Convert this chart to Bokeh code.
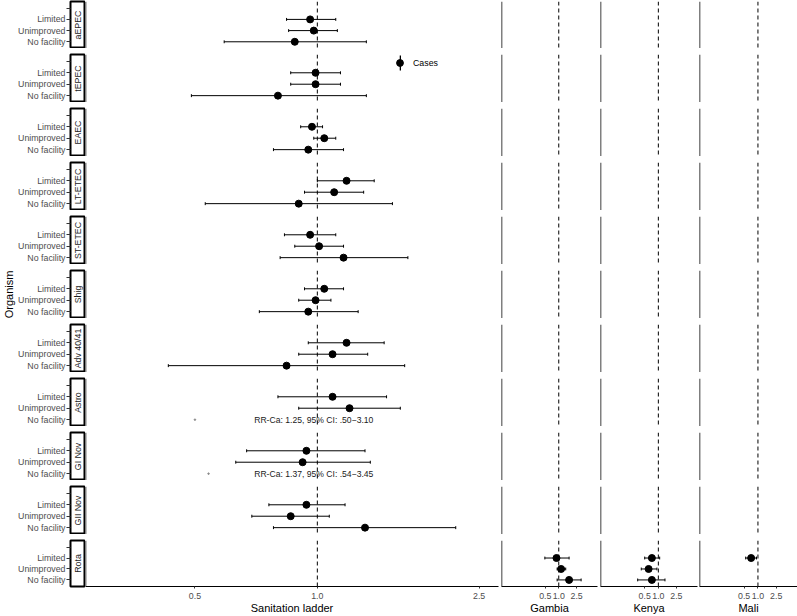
import math
from bokeh.plotting import figure
from bokeh.models import (ColumnDataSource, Range1d, FixedTicker, Span, Label,
                          Legend, LegendItem, PrintfTickFormatter)
from bokeh.layouts import gridplot
from bokeh.embed import file_html
from bokeh.resources import INLINE
from bokeh.core.properties import value

FONT = "Liberation Sans"
nan = float("nan")

organisms = ["aEPEC", "tEPEC", "EAEC", "LT-ETEC", "ST-ETEC", "Shig",
             "Adv 40/41", "Astro", "GI Nov", "GII Nov", "Rota"]
levels = ["Limited", "Unimproved", "No facility"]
level_pos = [3, 2, 1]
tick_labels = {1: "No facility", 2: "Unimproved", 3: "Limited", 4: ""}

# Sanitation ladder panel: [Limited, Unimproved, No facility]
ladder_est = {
    "aEPEC":     [0.96, 0.98, 0.88],
    "tEPEC":     [0.99, 0.99, 0.80],
    "EAEC":      [0.97, 1.04, 0.95],
    "LT-ETEC":   [1.18, 1.10, 0.90],
    "ST-ETEC":   [0.96, 1.01, 1.16],
    "Shig":      [1.04, 0.99, 0.95],
    "Adv 40/41": [1.18, 1.09, 0.84],
    "Astro":     [1.09, 1.20, nan],
    "GI Nov":    [0.94, 0.92, nan],
    "GII Nov":   [0.94, 0.86, 1.31],
    "Rota":      [nan, nan, nan],
}
ladder_lo = {
    "aEPEC":     [0.84, 0.85, 0.59],
    "tEPEC":     [0.86, 0.86, 0.49],
    "EAEC":      [0.91, 0.98, 0.78],
    "LT-ETEC":   [1.00, 0.93, 0.53],
    "ST-ETEC":   [0.83, 0.88, 0.81],
    "Shig":      [0.93, 0.90, 0.72],
    "Adv 40/41": [0.95, 0.90, 0.43],
    "Astro":     [0.80, 0.90, nan],
    "GI Nov":    [0.67, 0.63, nan],
    "GII Nov":   [0.76, 0.69, 0.78],
    "Rota":      [nan, nan, nan],
}
ladder_hi = {
    "aEPEC":     [1.11, 1.12, 1.32],
    "tEPEC":     [1.14, 1.14, 1.32],
    "EAEC":      [1.03, 1.11, 1.16],
    "LT-ETEC":   [1.38, 1.30, 1.53],
    "ST-ETEC":   [1.11, 1.16, 1.67],
    "Shig":      [1.16, 1.08, 1.26],
    "Adv 40/41": [1.46, 1.33, 1.64],
    "Astro":     [1.48, 1.60, nan],
    "GI Nov":    [1.31, 1.35, nan],
    "GII Nov":   [1.17, 1.07, 2.19],
    "Rota":      [nan, nan, nan],
}

# Rotavirus by country: [Limited, Unimproved, No facility]
countries = ["Gambia", "Kenya", "Mali"]
rota_est = {"Gambia": [0.89, 1.13, 1.70], "Kenya": [0.72, 0.61, 0.72], "Mali": [0.71, nan, nan]}
rota_lo = {"Gambia": [0.49, 0.92, 0.92], "Kenya": [0.50, 0.42, 0.35], "Mali": [0.54, nan, nan]}
rota_hi = {"Gambia": [1.70, 1.43, 3.15], "Kenya": [1.07, 0.93, 1.40], "Mali": [0.93, nan, nan]}

# Case-only estimates printed as text
annot_org = ["Astro", "GI Nov"]
annot_text = ["RR-Ca: 1.25, 95% CI: .50\u22123.10", "RR-Ca: 1.37, 95% CI: .54\u22123.45"]
annot_x = [0.98, 0.98]
annot_mark = [0.50, 0.54]

x_ticks = [0.5, 1.0, 2.5]
main_range = (0.269, 2.79)
small_range = (0.053, 7.3)

TXT = "#4D4D4D"

n = len(organisms)
rows = []
for i, org in enumerate(organisms):
    top = 1 if i == 0 else 6
    bottom = 28 if i == n - 1 else 0
    fh = 47 if i == 0 else 48
    h = fh + top + bottom

    # strip + y axis
    s = figure(width=85, height=h, x_range=Range1d(0, 1), y_range=Range1d(0.4, 4.6),
               output_backend="svg", toolbar_location=None,
               min_border_left=68, min_border_right=0, min_border_top=top,
               min_border_bottom=bottom)
    s.grid.visible = False
    s.xaxis.visible = False
    s.outline_line_color = "black"
    s.outline_line_width = 2
    ya = s.yaxis[0]
    ya.ticker = FixedTicker(ticks=[1, 2, 3, 4])
    ya.major_label_overrides = tick_labels
    ya.axis_line_color = None
    ya.minor_tick_line_color = None
    ya.major_tick_out = 4
    ya.major_tick_in = 0
    ya.major_tick_line_color = "#333333"
    ya.major_label_standoff = 1
    ya.major_label_text_font = FONT
    ya.major_label_text_font_size = "8.8px"
    ya.major_label_text_color = TXT
    if org == "Shig":
        ya.axis_label = "Organism"
        ya.axis_label_text_font = FONT
        ya.axis_label_text_font_size = "11px"
        ya.axis_label_text_font_style = "normal"
        ya.axis_label_text_color = "black"
        ya.axis_label_standoff = 0
    s.add_layout(Label(x=0.5, y=2.5, text=org, angle=math.pi / 2, text_align="center",
                       text_baseline="middle", text_font=FONT, text_font_size="8.8px",
                       text_color="#1A1A1A"))
    row = [s]

    specs = [("Sanitation ladder", main_range, 416, 3,
              ladder_est[org], ladder_lo[org], ladder_hi[org])]
    widths = {"Gambia": (99, 3), "Kenya": (99, 2), "Mali": (98, 0)}
    for c in countries:
        if org == "Rota":
            e, l, u = rota_est[c], rota_lo[c], rota_hi[c]
        else:
            e, l, u = [nan] * 3, [nan] * 3, [nan] * 3
        specs.append((c, small_range, widths[c][0], widths[c][1], e, l, u))

    for (name, xr, w, br, e, l, u) in specs:
        p = figure(width=w, height=h, x_axis_type="log", x_range=Range1d(*xr),
                   y_range=Range1d(0.4, 4.6), output_backend="svg", toolbar_location=None,
                   min_border_left=0, min_border_right=br, min_border_top=top,
                   min_border_bottom=bottom)
        p.grid.visible = False
        p.outline_line_color = None
        p.yaxis.visible = False
        p.add_layout(Span(location=xr[0], dimension="height", line_color="black",
                          line_width=1.5))
        p.add_layout(Span(location=1.0, dimension="height", line_color="black",
                          line_width=1, line_dash="4 3"))
        src = ColumnDataSource(dict(
            y=level_pos, y0=[v - 0.13 for v in level_pos], y1=[v + 0.13 for v in level_pos],
            est=e, lo=l, hi=u))
        p.segment(x0="lo", y0="y", x1="hi", y1="y", source=src, line_color="black",
                  line_width=1)
        p.segment(x0="lo", y0="y0", x1="lo", y1="y1", source=src, line_color="black",
                  line_width=1)
        p.segment(x0="hi", y0="y0", x1="hi", y1="y1", source=src, line_color="black",
                  line_width=1)
        p.scatter(x="est", y="y", source=src, size=7, color="black")

        if name == "Sanitation ladder" and org in annot_org:
            k = annot_org.index(org)
            p.scatter(x=[annot_mark[k]], y=[1], size=1.5, color="#888888")
            p.text(x=[annot_x[k]], y=[1], text=[annot_text[k]], text_align="center",
                   text_baseline="middle", text_font=value(FONT),
                   text_font_size="8.6px", text_color="#1A1A1A")

        if name == "Sanitation ladder" and org == "tEPEC":
            # legend key: vertical error bar with a point on top
            r_bar = p.vbar(x=[nan], top=[nan], width=0.1, fill_color="black",
                           line_color=None)
            r_pt = p.scatter(x=[nan], y=[nan], size=7, color="black")
            leg_bar = Legend(items=[LegendItem(label=" ", renderers=[r_bar])],
                             location=(313.5, 30), padding=0, margin=0, spacing=0,
                             glyph_width=2, glyph_height=19, label_standoff=0,
                             label_text_font_size="1px", border_line_color=None,
                             background_fill_alpha=0)
            leg = Legend(items=[LegendItem(label="Cases", renderers=[r_pt])],
                         location=(306, 31), padding=0, margin=0, spacing=0,
                         glyph_width=17, glyph_height=17, label_standoff=5,
                         label_text_font=FONT, label_text_font_size="8.8px",
                         label_text_color="black", border_line_color=None,
                         background_fill_alpha=0)
            p.add_layout(leg_bar)
            p.add_layout(leg)

        if i == n - 1:
            xa = p.xaxis[0]
            xa.ticker = FixedTicker(ticks=x_ticks)
            xa.formatter = PrintfTickFormatter(format="%.1f")
            xa.axis_line_color = "black"
            xa.axis_line_width = 1
            xa.major_tick_out = 2
            xa.major_tick_in = 0
            xa.minor_tick_line_color = None
            xa.major_tick_line_color = "#333333"
            xa.major_label_standoff = 4
            xa.major_label_text_font = FONT
            xa.major_label_text_font_size = "8.8px"
            xa.major_label_text_color = TXT
            xa.axis_label = name
            xa.axis_label_standoff = 0
            xa.axis_label_text_font = FONT
            xa.axis_label_text_font_size = "11px"
            xa.axis_label_text_font_style = "normal"
            xa.axis_label_text_color = "black"
        else:
            p.xaxis.visible = False
        row.append(p)
    rows.append(row)

grid = gridplot(rows, toolbar_location=None)
grid.margin = 0

open("out.html", "w").write(file_html(grid, INLINE))
